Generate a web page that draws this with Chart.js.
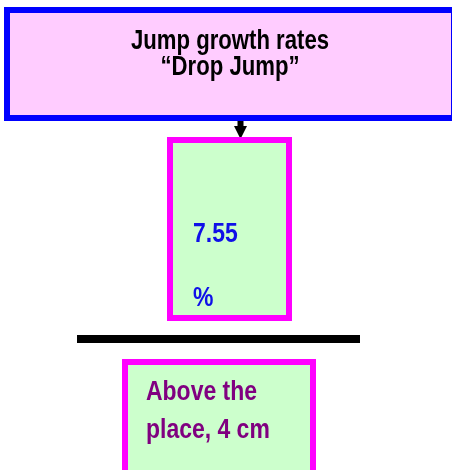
<!DOCTYPE html>
<html>
<head>
<meta charset="utf-8">
<script src="https://cdn.jsdelivr.net/npm/chart.js@4/dist/chart.umd.min.js"></script>
<style>
  html, body { margin: 0; padding: 0; background: #ffffff; }
  #wrap { width: 452px; height: 470px; }
</style>
</head>
<body>
<div id="wrap"><canvas id="c" width="452" height="470"></canvas></div>
<script>
// ---- data ----
const titleLines = ['Jump growth rates', '\u201CDrop Jump\u201D'];
const growthValues = [7.55];
const unitLabels = ['%'];
const conditionLines = ['Above the', 'place, 4 cm'];

const FONT = '"Liberation Sans", Arial, sans-serif';

function narrowText(ctx, text, x, y, align) {
  ctx.save();
  ctx.translate(x, y);
  ctx.scale(0.82, 1);
  ctx.textAlign = align;
  ctx.textBaseline = 'middle';
  ctx.fillText(text, 0, 0);
  ctx.restore();
}

const diagramPlugin = {
  id: 'diagram',
  afterDraw(chart) {
    const ctx = chart.ctx;
    const xs = chart.scales.x, ys = chart.scales.y;
    const X = v => xs.getPixelForValue(v);
    const Y = v => ys.getPixelForValue(v);
    ctx.save();

    // top box
    ctx.fillStyle = '#ffccff';
    ctx.fillRect(X(7), Y(10), X(454) - X(7), Y(118) - Y(10));
    ctx.strokeStyle = '#0000ff';
    ctx.lineWidth = 6;
    ctx.strokeRect(X(7), Y(10), X(454) - X(7), Y(118) - Y(10));

    // arrow
    ctx.fillStyle = '#000000';
    ctx.fillRect(X(237.5), Y(121), 6, Y(128) - Y(121));
    ctx.beginPath();
    ctx.moveTo(X(234), Y(126));
    ctx.lineTo(X(247), Y(126));
    ctx.lineTo(X(240.5), Y(139));
    ctx.closePath();
    ctx.fill();

    // middle box
    ctx.fillStyle = '#ccffcc';
    ctx.fillRect(X(170), Y(140), X(289) - X(170), Y(318) - Y(140));
    ctx.strokeStyle = '#ff00ff';
    ctx.lineWidth = 6;
    ctx.strokeRect(X(170), Y(140), X(289) - X(170), Y(318) - Y(140));

    // separator line
    ctx.fillStyle = '#000000';
    ctx.fillRect(X(77), Y(335), X(360) - X(77), Y(343) - Y(335));

    // bottom box
    ctx.fillStyle = '#ccffcc';
    ctx.fillRect(X(125), Y(362), X(313) - X(125), Y(476) - Y(362));
    ctx.strokeStyle = '#ff00ff';
    ctx.lineWidth = 6;
    ctx.strokeRect(X(125), Y(362), X(313) - X(125), Y(476) - Y(362));

    // texts
    ctx.fillStyle = '#000000';
    ctx.font = 'bold 27px ' + FONT;
    narrowText(ctx, titleLines[0], X(230), Y(42), 'center');
    narrowText(ctx, titleLines[1], X(230), Y(68), 'center');

    ctx.fillStyle = '#1010e8';
    ctx.font = 'bold 28px ' + FONT;
    narrowText(ctx, growthValues[0].toFixed(2), X(193), Y(234), 'left');
    narrowText(ctx, unitLabels[0], X(193), Y(298), 'left');

    ctx.fillStyle = '#800080';
    ctx.font = 'bold 28px ' + FONT;
    narrowText(ctx, conditionLines[0], X(146), Y(392), 'left');
    narrowText(ctx, conditionLines[1], X(146), Y(430), 'left');

    ctx.restore();
  }
};

new Chart(document.getElementById('c'), {
  type: 'scatter',
  data: { datasets: [{ data: [] }] },
  options: {
    responsive: false,
    devicePixelRatio: 1,
    animation: false,
    layout: { padding: 0 },
    plugins: { legend: { display: false }, tooltip: { enabled: false }, title: { display: false } },
    scales: {
      x: { type: 'linear', min: 0, max: 452, display: false },
      y: { type: 'linear', min: 0, max: 470, reverse: true, display: false }
    }
  },
  plugins: [diagramPlugin]
});
</script>
</body>
</html>
